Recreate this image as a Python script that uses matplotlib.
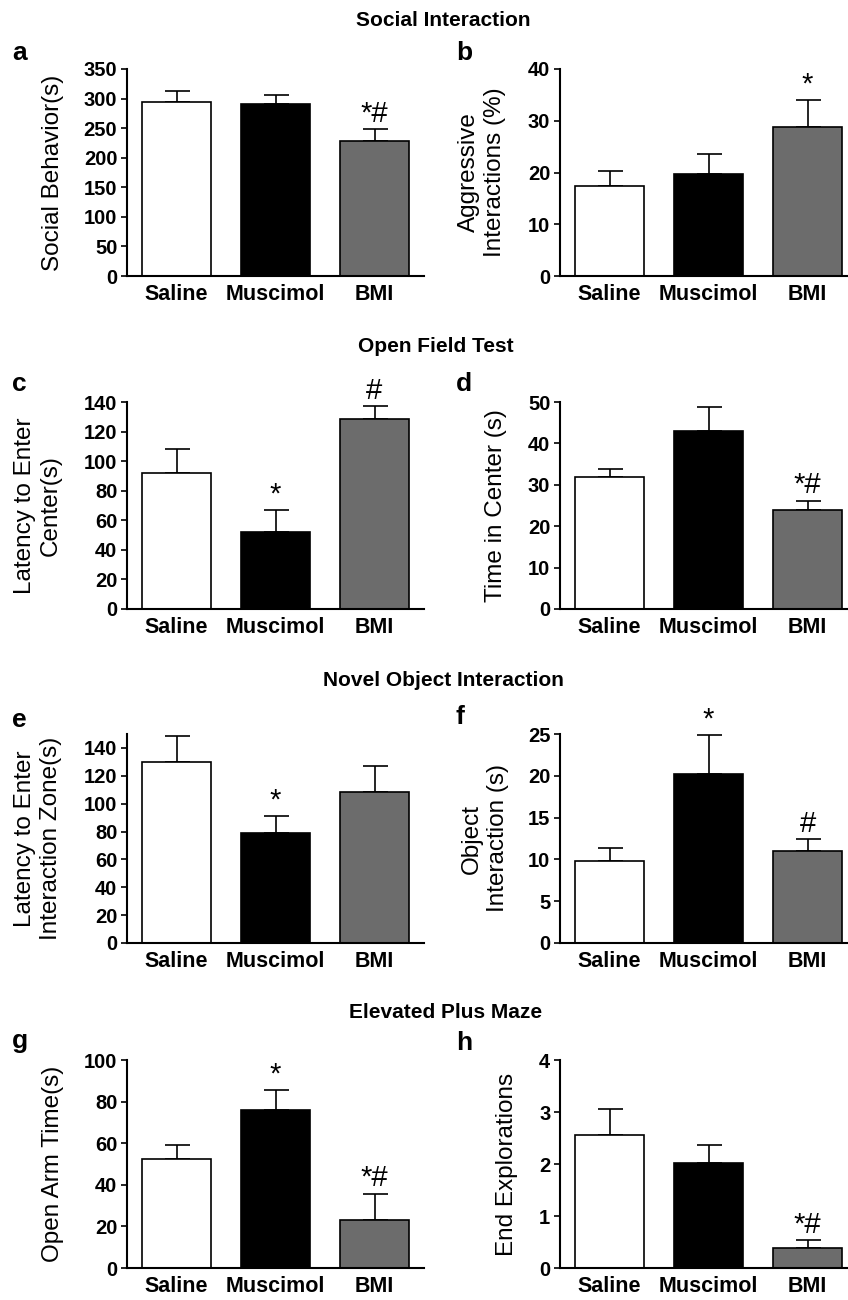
import matplotlib
matplotlib.use("Agg")
import matplotlib.pyplot as plt

plt.rcParams['font.family'] = ['Liberation Sans', 'DejaVu Sans']

W, H = 848, 1300

groups = ['Saline', 'Muscimol', 'BMI']
bar_colors = ['white', 'black', '#6c6c6c']

# values (mean, upper error)
social_behavior = [295, 291, 228]
social_behavior_err = [18, 15, 20]
aggressive = [17.4, 19.7, 28.8]
aggressive_err = [2.9, 3.9, 5.3]
latency_center = [92, 52, 128.5]
latency_center_err = [16, 14.7, 8.8]
time_center = [31.9, 42.9, 23.8]
time_center_err = [2.0, 5.9, 2.4]
latency_zone = [130, 79, 108.3]
latency_zone_err = [18.3, 12.5, 19]
object_inter = [9.8, 20.2, 11.0]
object_inter_err = [1.6, 4.7, 1.4]
open_arm = [52.5, 76, 23.2]
open_arm_err = [6.5, 9.4, 12.6]
end_expl = [2.56, 2.02, 0.39]
end_expl_err = [0.49, 0.35, 0.15]

section_titles = ['Social Interaction', 'Open Field Test',
                  'Novel Object Interaction', 'Elevated Plus Maze']

# letter, data, err, ylabel, ylim, tick step, marks
panels = [
    ('a', social_behavior, social_behavior_err, 'Social Behavior(s)', 350, 50, ['', '', '*#']),
    ('b', aggressive, aggressive_err, 'Aggressive\nInteractions (%)', 40, 10, ['', '', '*']),
    ('c', latency_center, latency_center_err, 'Latency to Enter\nCenter(s)', 140, 20, ['', '*', '#']),
    ('d', time_center, time_center_err, 'Time in Center (s)', 50, 10, ['', '', '*#']),
    ('e', latency_zone, latency_zone_err, 'Latency to Enter\nInteraction Zone(s)', 150, 20, ['', '*', '']),
    ('f', object_inter, object_inter_err, 'Object\nInteraction (s)', 25, 5, ['', '*', '#']),
    ('g', open_arm, open_arm_err, 'Open Arm Time(s)', 100, 20, ['', '*', '*#']),
    ('h', end_expl, end_expl_err, 'End Explorations', 4, 1, ['', '', '*#']),
]

# pixel layout: axes (top, bottom) per row, left edge per column
row_px = [(69, 276), (402, 609), (734, 943), (1060, 1268)]
col_left = [127, 560]
ax_w = 297
label_x = [[53, 482], [38, 496], [38, 485], [53, 507]]
letter_px = [[(12, 60), (456, 60)], [(12, 391), (456, 391)],
             [(12, 727), (456, 724)], [(12, 1048), (456, 1050)]]
title_px = [(443, 20), (436, 347), (443, 681), (446, 1013)]

fig = plt.figure(figsize=(W / 100, H / 100), dpi=100)

for i, (letter, vals, errs, ylab, ymax, step, marks) in enumerate(panels):
    r, c = divmod(i, 2)
    top, bot = row_px[r]
    left = col_left[c]
    ax = fig.add_axes([left / W, 1 - bot / H, ax_w / W, (bot - top) / H])
    x = range(len(groups))
    ax.bar(x, vals, width=0.7, color=bar_colors, edgecolor='black', linewidth=1.2, zorder=2)
    ax.errorbar(x, vals, yerr=[[0] * 3, errs], fmt='none', ecolor='black',
                elinewidth=1.2, capsize=9, capthick=1.2, zorder=1)
    for xi, v, e, m in zip(x, vals, errs, marks):
        if m:
            ax.annotate(m, (xi, v + e), xytext=(0, 1), textcoords='offset points',
                        ha='center', va='bottom', fontsize=21)
    ax.set_xlim(-0.5, 2.5)
    ax.set_ylim(0, ymax)
    yt = list(range(0, int(ymax) + 1, step))
    ax.set_yticks(yt)
    ax.set_xticks(list(x))
    ax.set_xticklabels(groups, fontsize=15.5, fontweight='bold')
    ax.tick_params(axis='x', length=0, pad=6)
    ax.tick_params(axis='y', length=4, width=1.2, labelsize=14.5, pad=3)
    for lab in ax.get_yticklabels():
        lab.set_fontweight('bold')
    for s in ['top', 'right']:
        ax.spines[s].set_visible(False)
    for s in ['left', 'bottom']:
        ax.spines[s].set_linewidth(1.5)
    fig.text(label_x[r][c] / W, 1 - (top + bot) / 2 / H, ylab, rotation=90,
             ha='center', va='center', multialignment='center',
             fontsize=17.5, linespacing=1.2)
    lx, ly = letter_px[r][c]
    fig.text(lx / W, 1 - ly / H, letter, ha='left', va='baseline',
             fontsize=19, fontweight='bold')

for t, (tx, ty) in zip(section_titles, title_px):
    fig.text(tx / W, 1 - ty / H, t, ha='center', va='center',
             fontsize=15, fontweight='bold')

fig.savefig('out.png', dpi=100)
